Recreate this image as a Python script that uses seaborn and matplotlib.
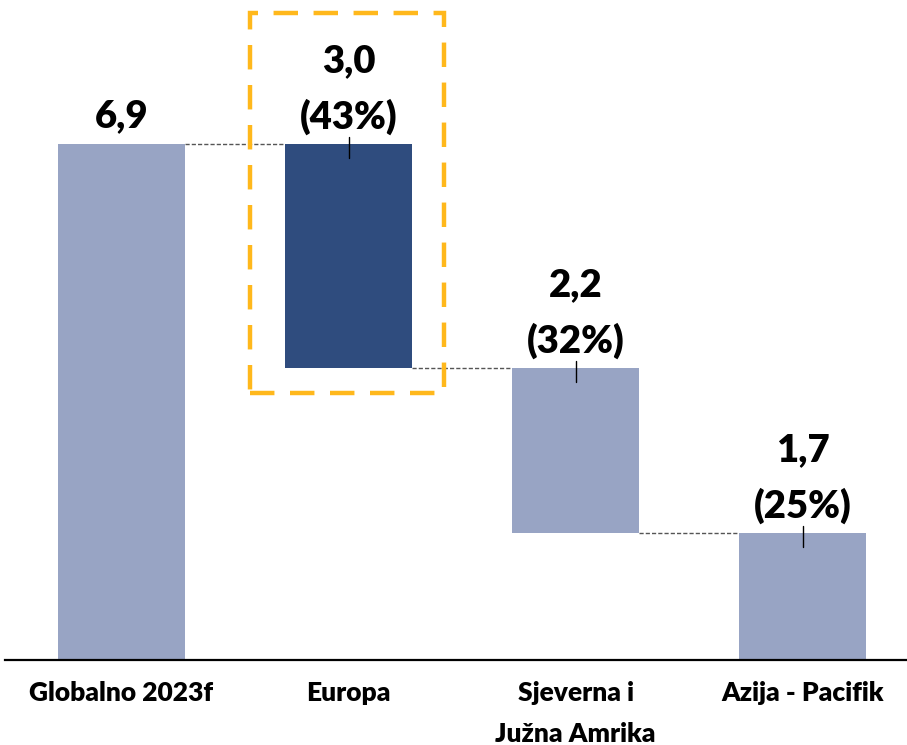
import matplotlib
matplotlib.use("Agg")
import matplotlib.pyplot as plt
import seaborn as sns
import numpy as np
import pandas as pd
from matplotlib.patches import Rectangle

categories = ["Globalno 2023f", "Europa", "Sjeverna i\nJužna Amrika", "Azija - Pacifik"]
values = [6.9, 3.0, 2.2, 1.7]
value_labels = ["6,9", "3,0", "2,2", "1,7"]
share_labels = [None, "(43%)", "(32%)", "(25%)"]

# waterfall bottoms: total stands on 0, parts descend from the total
bottoms = [0.0]
running = values[0]
for v in values[1:]:
    running -= v
    bottoms.append(running)
bottoms = np.array(bottoms)
tops = bottoms + np.array(values)

sns.set_theme(style="white")
plt.rcParams["font.family"] = ["Lato", "DejaVu Sans"]

fig = plt.figure(figsize=(9.07, 7.45), dpi=100)
ax = fig.add_axes([5 / 907, 85 / 745, 902 / 907, 660 / 745])

df = pd.DataFrame({"cat": categories, "val": values})
sns.barplot(data=df, x="cat", y="val", order=categories, color="#98A4C4",
            saturation=1, width=0.56, bottom=bottoms, ax=ax, errorbar=None)

light = "#98A4C4"
dark = "#2F4C7E"
for i, p in enumerate(ax.patches):
    p.set_facecolor(dark if i == 1 else light)
    p.set_edgecolor("none")

ax.set_xlim(-0.513, 3.46)
ax.set_ylim(0, 8.82)

# connectors
hw = 0.28
for i in range(len(values) - 1):
    y = tops[i] if i == 0 else bottoms[i]
    ax.plot([i + hw, i + 1 - hw], [y, y], color="#555555", lw=1.0,
            ls=(0, (3, 1.5)), zorder=1)

# small tick marks and labels
lab_kw = dict(textcoords="offset points", ha="center", va="center",
              fontsize=27.5, fontweight="heavy", color="black")
for i in range(len(values)):
    top = tops[i]
    if i > 0:
        ax.plot([i, i], [top - 0.19, top + 0.09], color="black", lw=1.0, zorder=3)
        ax.annotate(share_labels[i], (i, top), xytext=(0, 19.5), **lab_kw)
        ax.annotate(value_labels[i], (i, top), xytext=(0, 59.5), **lab_kw)
    else:
        ax.annotate(value_labels[i], (i, top), xytext=(0, 19.5), **lab_kw)

# highlight box around Europa
rect = Rectangle((0.566, 3.57), 1.421 - 0.566, 8.65 - 3.57, fill=False,
                 edgecolor="#FFB81C", lw=3.2, ls=(0, (5.5, 3.5)), zorder=4, clip_on=False)
ax.add_patch(rect)

sns.despine(ax=ax, left=True, top=True, right=True)
ax.spines["bottom"].set_color("black")
ax.spines["bottom"].set_linewidth(1.6)
ax.set_yticks([])
ax.set_xlabel("")
ax.set_ylabel("")
ax.tick_params(axis="x", length=0, pad=15)
for lbl in ax.get_xticklabels():
    lbl.set_fontsize(19)
    lbl.set_fontweight("heavy")
    lbl.set_color("black")
    lbl.set_linespacing(1.85)

fig.savefig("out.png", dpi=100)
